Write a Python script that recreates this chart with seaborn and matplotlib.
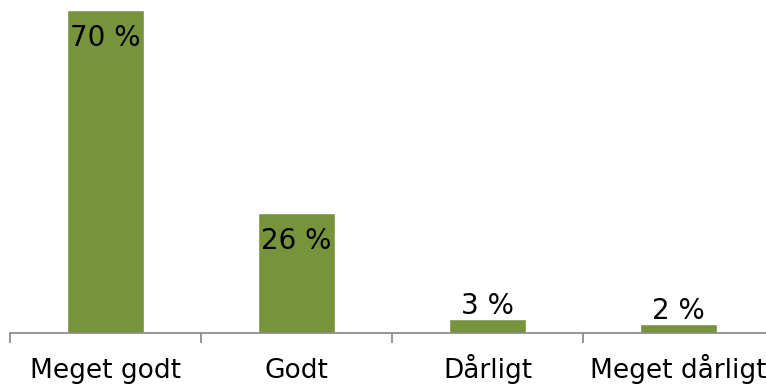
import matplotlib
matplotlib.use("Agg")
import matplotlib.pyplot as plt
import matplotlib.transforms as mtransforms
import seaborn as sns
import pandas as pd

categories = ["Meget godt", "Godt", "Dårligt", "Meget dårligt"]
values = [70, 26, 3, 2]
labels = ["70 %", "26 %", "3 %", "2 %"]

sns.set_theme(style="white")
plt.rcParams['font.family'] = ['DejaVu Sans']

W, H = 766, 385
fig = plt.figure(figsize=(W / 100, H / 100), dpi=100)
ax_left, ax_right = 10, 774
ax_bottom, ax_top = 333, 10
ax = fig.add_axes([ax_left / W, (H - ax_bottom) / H,
                   (ax_right - ax_left) / W, (ax_bottom - ax_top) / H])

df = pd.DataFrame({"cat": categories, "val": values})
sns.barplot(data=df, x="cat", y="val", color="#77933C", saturation=1,
            width=0.4, ax=ax, order=categories)

ax.set_xlim(-0.5, 3.5)
ax.set_ylim(0, 70)
ax.set_xlabel("")
ax.set_ylabel("")
ax.set_yticks([])
for s in ["top", "right", "left"]:
    ax.spines[s].set_visible(False)
ax.spines["bottom"].set_color("#868686")
ax.spines["bottom"].set_linewidth(1.2)

# boundary ticks
ax.set_xticks([-0.5, 0.5, 1.5, 2.5, 3.5])
ax.set_xticklabels([])
ax.tick_params(axis="x", which="major", length=7, width=1.2, color="#868686",
               bottom=True, direction="out")

# category labels, baseline-aligned below the axis
trans = mtransforms.blended_transform_factory(ax.transData, ax.transAxes)
axes_h = ax_bottom - ax_top
for i, cat in enumerate(categories):
    ax.text(i, -45 / axes_h, cat, transform=trans, ha="center",
            va="baseline", fontsize=19, color="black", clip_on=False)

for i, (v, lab) in enumerate(zip(values, labels)):
    if v > 10:
        ax.annotate(lab, (i, v), xytext=(0, -28), textcoords="offset pixels",
                    ha="center", va="center", fontsize=20, color="black")
    else:
        ax.annotate(lab, (i, v), xytext=(0, 5), textcoords="offset pixels",
                    ha="center", va="baseline", fontsize=20, color="black")

fig.savefig("out.png", dpi=100)
